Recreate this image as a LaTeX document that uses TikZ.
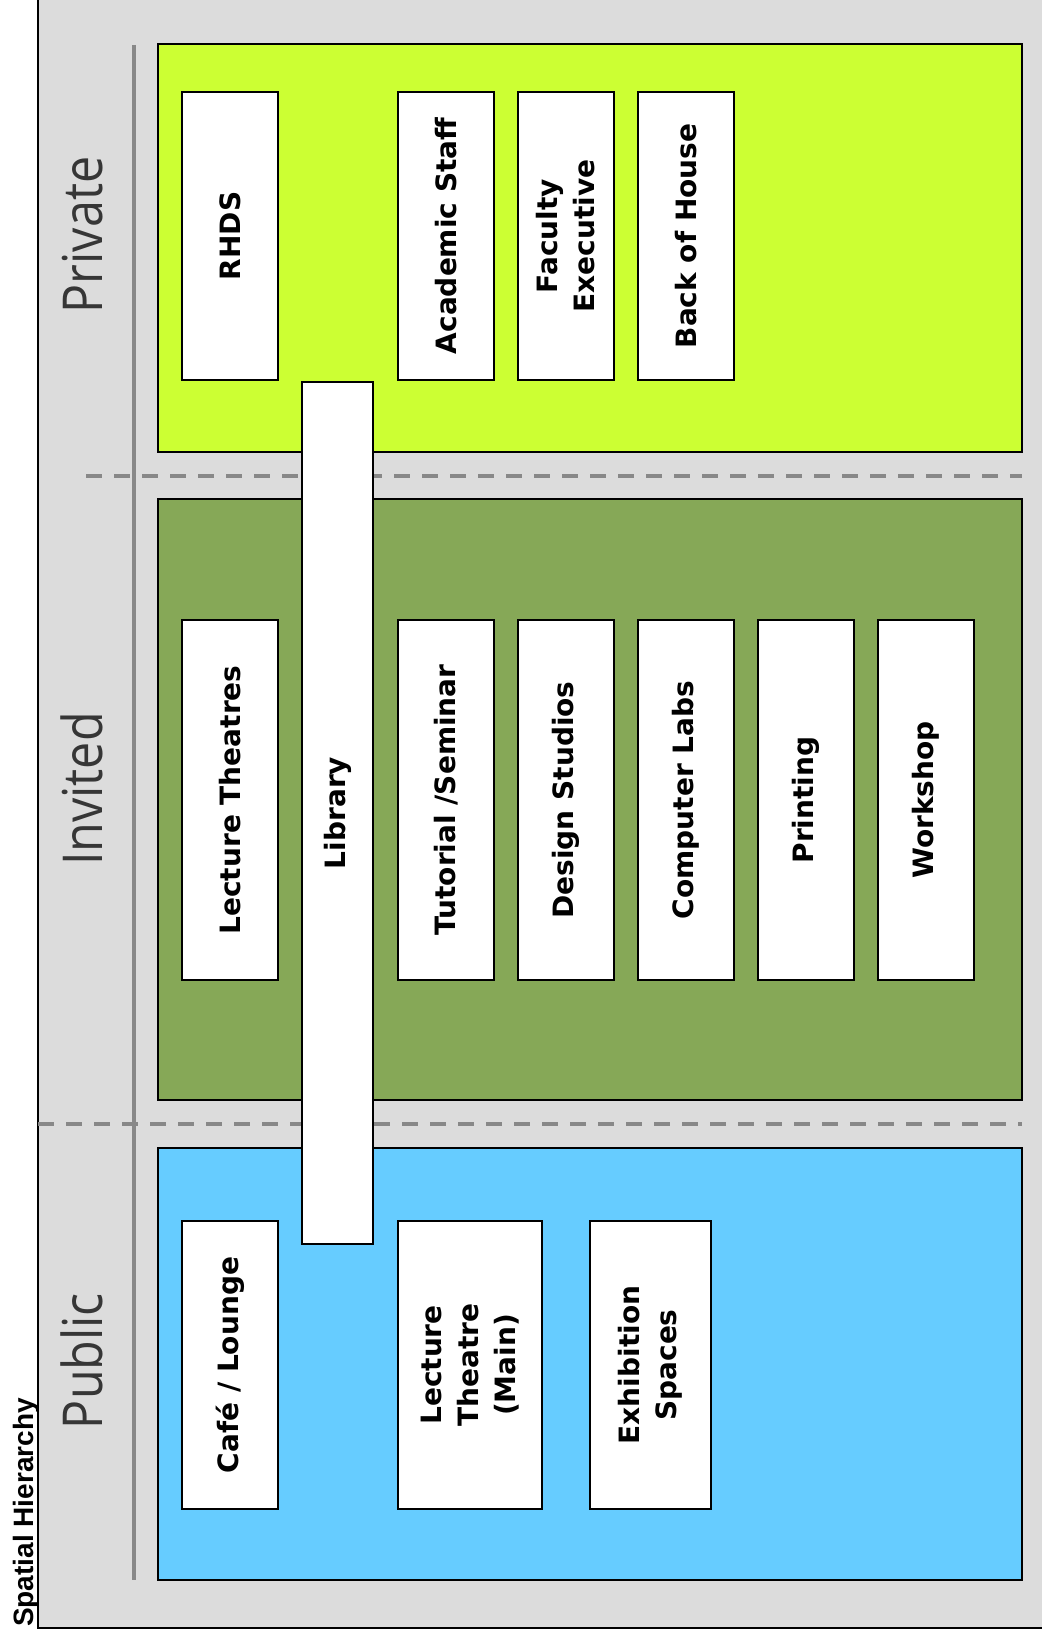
\documentclass[tikz,border=0pt]{standalone}
\usepackage{fontspec}
\setmainfont{DejaVu Sans}
\newfontfamily\zonefont{Open Sans}
\newfontfamily\headfont{Liberation Sans Bold}

\definecolor{bggray}{HTML}{DCDCDC}
\definecolor{privlime}{HTML}{CCFF33}
\definecolor{invgreen}{HTML}{86A857}
\definecolor{pubblue}{HTML}{66CCFF}
\definecolor{rulegray}{HTML}{888888}
\definecolor{zonetext}{HTML}{363636}

\tikzset{
  room/.style={draw=black, fill=white, line width=1.3pt, rotate=90, inner sep=0pt,
    align=center, font=\bfseries\fontsize{28}{37}\selectfont},
  privroom/.style={room, minimum width=288pt, minimum height=96pt},
  invroom/.style={room, minimum width=360pt, minimum height=96pt},
  pubroom/.style={room, minimum width=288pt},
  zone/.style={draw=black, line width=1.5pt},
  zonelabel/.style={rotate=90, xscale=0.88, anchor=base, inner sep=0pt,
    text=zonetext, font=\zonefont\fontsize{55}{60}\selectfont},
  divider/.style={rulegray, line width=3.5pt, dash pattern=on 16pt off 12pt},
}

\begin{document}
\begin{tikzpicture}[x=1pt, y=-1pt]
\useasboundingbox (0,0) rectangle (1041,1637);

% frame
\draw[fill=bggray, line width=1.5pt] (38,-5) rectangle (1046,1628);
\node[rotate=90, anchor=base west, inner sep=0pt,
  font=\headfont\fontsize{28}{30}\selectfont] (title) at (33,1627) {Spatial Hierarchy};

% rules
\draw[rulegray, line width=3.5pt] (134,45) -- (134,1580);
\draw[divider] (86,476) -- (1022,476);
\draw[divider] (38,1124) -- (1022,1124);

% zones
\draw[zone, fill=privlime] (158,44) rectangle (1022,452);
\draw[zone, fill=invgreen] (158,499) rectangle (1022,1100);
\draw[zone, fill=pubblue] (158,1148) rectangle (1022,1580);

\node[zonelabel] (private) at (102,235) {Private};
\node[zonelabel] (invited) at (102,789) {Invited};
\node[zonelabel] (public) at (102,1361) {Public};

% private
\node[privroom] (rhds) at (230,236) {RHDS};
\node[privroom] (acad) at (446,236) {Academic Staff};
\node[privroom] (facexec) at (566,236) {Faculty\\Executive};
\node[privroom] (boh) at (686,236) {Back of House};

% invited
\node[invroom] (lecth) at (230,800) {Lecture Theatres};
\node[invroom] (tutsem) at (446,800) {Tutorial /Seminar};
\node[invroom] (design) at (566,800) {Design Studios};
\node[invroom] (complab) at (686,800) {Computer Labs};
\node[invroom] (printing) at (806,800) {Printing};
\node[invroom] (workshop) at (926,800) {Workshop};

% public
\node[pubroom, minimum height=96pt] (cafe) at (230,1365) {Café / Lounge};
\node[pubroom, minimum height=144pt] (lectmain) at (470,1365) {Lecture\\Theatre\\(Main)};
\node[pubroom, minimum height=121pt] (exhib) at (650.5,1365) {Exhibition\\Spaces};

% library spans all three
\node[room, minimum width=862pt, minimum height=71pt] (library) at (337.5,813) {Library};

\end{tikzpicture}
\end{document}
